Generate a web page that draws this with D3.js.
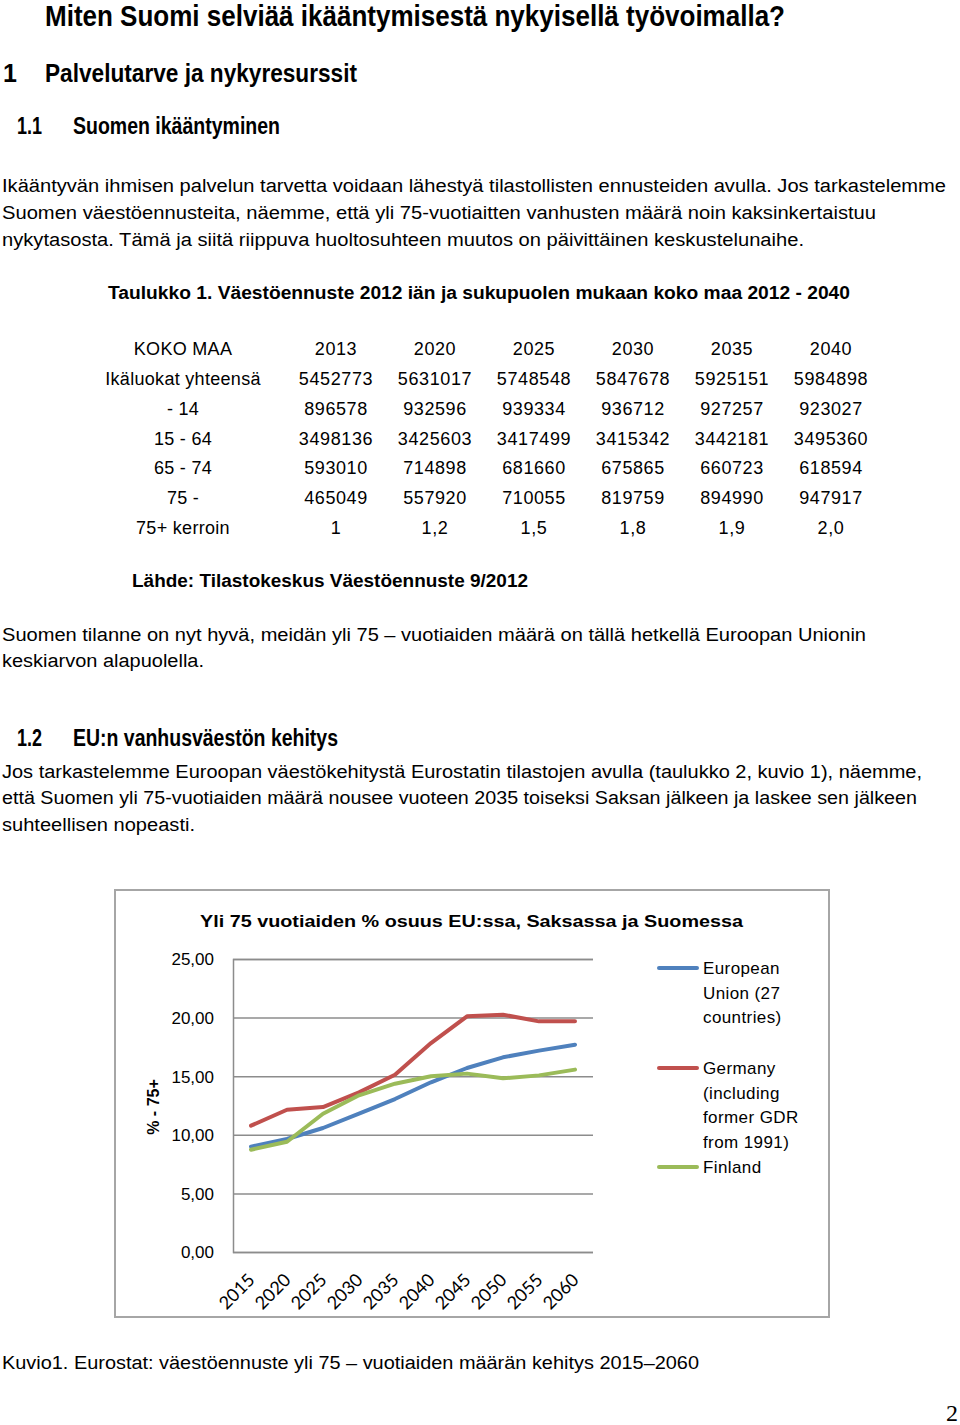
<!DOCTYPE html>
<html>
<head>
<meta charset="utf-8">
<script src="https://cdn.jsdelivr.net/npm/d3@7"></script>
<style>
  body { margin: 0; background: #fff; }
  svg { display: block; }
  text { fill: #000; }
  .body { font-family: "Liberation Sans", Arial, sans-serif; font-size: 18px; }
  .head { font-family: "Liberation Sans Narrow", "Liberation Sans", Arial, sans-serif; font-weight: bold; }
  .chart text { font-family: "Liberation Sans", Arial, sans-serif; }
</style>
</head>
<body>
<div id="page"></div>
<script>
// --- table data (Tilastokeskus) ---
var tableHeader = "KOKO MAA";
var tableYears = ["2013", "2020", "2025", "2030", "2035", "2040"];
var tableRowLabels = ["Ikäluokat yhteensä", "- 14", "15 - 64", "65 - 74", "75 -", "75+ kerroin"];
var tableValues = [
    ["5452773", "5631017", "5748548", "5847678", "5925151", "5984898"],
    ["896578", "932596", "939334", "936712", "927257", "923027"],
    ["3498136", "3425603", "3417499", "3415342", "3442181", "3495360"],
    ["593010", "714898", "681660", "675865", "660723", "618594"],
    ["465049", "557920", "710055", "819759", "894990", "947917"],
    ["1", "1,2", "1,5", "1,8", "1,9", "2,0"]
];

// --- chart data (Eurostat, % aged 75+) ---
var chartYears = ["2015", "2020", "2025", "2030", "2035", "2040", "2045", "2050", "2055", "2060"];
var euValues      = [8.99, 9.64, 10.58, 11.80, 13.05, 14.48, 15.70, 16.61, 17.18, 17.69];
var germanyValues = [10.78, 12.14, 12.37, 13.62, 15.13, 17.83, 20.11, 20.25, 19.68, 19.68];
var finlandValues = [8.73, 9.41, 11.80, 13.37, 14.36, 14.99, 15.22, 14.82, 15.07, 15.56];
var yTicks = [0, 5, 10, 15, 20, 25];
var seriesNames = [
    ["European", "Union (27", "countries)"],
    ["Germany", "(including", "former GDR", "from 1991)"],
    ["Finland"]
];
var seriesColors = ["#4f81bd", "#c0504d", "#9bbb59"];

var W = 960, H = 1425;
var svg = d3.select("#page").append("svg")
    .attr("width", W)
    .attr("height", H);

// helper for one line of text, squeezed to the width seen in the page
function textLine(x, y, str, cls, size, width) {
    var t = svg.append("text")
        .attr("class", cls)
        .attr("x", x)
        .attr("y", y)
        .style("font-size", size + "px")
        .text(str);
    if( width ) t.attr("textLength", width).attr("lengthAdjust", "spacingAndGlyphs");
    return t;
}

// headings and body text
textLine(45, 26, "Miten Suomi selviää ikääntymisestä nykyisellä työvoimalla?", "head", 30, 740);
textLine(3, 82, "1", "head", 25);
textLine(45, 82, "Palvelutarve ja nykyresurssit", "head", 25, 312);
textLine(17, 134, "1.1", "head", 23, 25);
textLine(73, 134, "Suomen ikääntyminen", "head", 23, 207);

textLine(2, 192, "Ikääntyvän ihmisen palvelun tarvetta voidaan lähestyä tilastollisten ennusteiden avulla. Jos tarkastelemme", "body", 18, 944);
textLine(2, 219, "Suomen väestöennusteita, näemme, että yli 75-vuotiaitten vanhusten määrä noin kaksinkertaistuu", "body", 18, 874);
textLine(2, 246, "nykytasosta. Tämä ja siitä riippuva huoltosuhteen muutos on päivittäinen keskustelunaihe.", "body", 18, 802);

textLine(108, 299, "Taulukko 1. Väestöennuste 2012 iän ja sukupuolen mukaan koko maa 2012 - 2040", "head", 18, 742);

// table
var colX = d3.scaleLinear().domain([0, 5]).range([336, 831]);
var rowY = d3.scaleLinear().domain([0, 6]).range([355, 534]);

svg.append("text").attr("class", "body")
    .attr("x", 183).attr("y", rowY(0)).attr("text-anchor", "middle")
    .style("letter-spacing", "0.3px")
    .text(tableHeader);
svg.selectAll(".yearHead").data(tableYears).enter().append("text")
    .attr("class", "body yearHead")
    .attr("x", function(d, i) { return colX(i); })
    .attr("y", rowY(0))
    .attr("text-anchor", "middle")
    .style("letter-spacing", "0.6px")
    .text(function(d) { return d; });
svg.selectAll(".rowLabel").data(tableRowLabels).enter().append("text")
    .attr("class", "body rowLabel")
    .attr("x", 183)
    .attr("y", function(d, i) { return rowY(i + 1); })
    .attr("text-anchor", "middle")
    .style("letter-spacing", "0.3px")
    .text(function(d) { return d; });
tableValues.forEach(function(row, r) {
    svg.selectAll(".cell" + r).data(row).enter().append("text")
        .attr("class", "body cell" + r)
        .attr("x", function(d, i) { return colX(i); })
        .attr("y", rowY(r + 1))
        .attr("text-anchor", "middle")
        .style("letter-spacing", "0.6px")
        .text(function(d) { return d; });
});

textLine(132, 587, "Lähde: Tilastokeskus Väestöennuste 9/2012", "head", 18, 396);
textLine(2, 641, "Suomen tilanne on nyt hyvä, meidän yli 75 – vuotiaiden määrä on tällä hetkellä Euroopan Unionin", "body", 18, 864);
textLine(2, 667, "keskiarvon alapuolella.", "body", 18, 202);

textLine(17, 746, "1.2", "head", 23, 25);
textLine(73, 746, "EU:n vanhusväestön kehitys", "head", 23, 265);
textLine(2, 778, "Jos tarkastelemme Euroopan väestökehitystä Eurostatin tilastojen avulla (taulukko 2, kuvio 1), näemme,", "body", 18, 920);
textLine(2, 804, "että Suomen yli 75-vuotiaiden määrä nousee vuoteen 2035 toiseksi Saksan jälkeen ja laskee sen jälkeen", "body", 18, 915);
textLine(2, 831, "suhteellisen nopeasti.", "body", 18, 193);

// --- chart ---
var chart = svg.append("g").attr("class", "chart");

chart.append("rect")
    .attr("x", 115).attr("y", 890)
    .attr("width", 714).attr("height", 427)
    .attr("fill", "#fff")
    .attr("stroke", "#a6a6a6")
    .attr("stroke-width", 2);

chart.append("text")
    .attr("x", 200).attr("y", 927)
    .attr("textLength", 543).attr("lengthAdjust", "spacingAndGlyphs")
    .style("font-size", "17px").style("font-weight", "bold")
    .text("Yli 75 vuotiaiden % osuus EU:ssa, Saksassa ja Suomessa");

var x = d3.scalePoint().domain(chartYears).range([233, 593]).padding(0.5);
var y = d3.scaleLinear().domain([0, 25]).range([1252, 959]);

// gridlines + value labels
var yAxis = d3.axisLeft(y)
    .tickValues(yTicks)
    .tickSize(-360)
    .tickPadding(19)
    .tickFormat(function(d) { return d3.format(".2f")(d).replace(".", ","); });
var gy = chart.append("g").attr("transform", "translate(233,0)").call(yAxis);
gy.select(".domain").attr("stroke", "#8c8c8c").attr("stroke-width", 1.5);
gy.selectAll(".tick line").attr("stroke", "#8c8c8c").attr("stroke-width", 1.5);
gy.selectAll(".tick text")
    .attr("dy", "0.35em")
    .style("font-size", "17px")
    .style("font-family", "'Liberation Sans', Arial, sans-serif")
    .attr("fill", "#000");

chart.append("text")
    .attr("transform", "translate(159,1107) rotate(-90)")
    .attr("text-anchor", "middle")
    .style("font-size", "16px").style("font-weight", "bold")
    .text("% - 75+");

// rotated year labels
chart.selectAll(".yearLabel").data(chartYears).enter().append("text")
    .attr("class", "yearLabel")
    .attr("transform", function(d) { return "translate(" + (x(d) + 5) + ",1281) rotate(-45)"; })
    .attr("text-anchor", "end")
    .style("font-family", "Lato, 'Open Sans', sans-serif")
    .style("font-size", "18px")
    .text(function(d) { return d; });

// lines
var allSeries = [euValues, germanyValues, finlandValues];
var line = d3.line()
    .x(function(d, i) { return x(chartYears[i]); })
    .y(function(d) { return y(d); });

chart.selectAll(".series").data(allSeries).enter().append("path")
    .attr("class", "series")
    .attr("d", line)
    .attr("fill", "none")
    .attr("stroke", function(d, i) { return seriesColors[i]; })
    .attr("stroke-width", 4)
    .attr("stroke-linejoin", "round")
    .attr("stroke-linecap", "round");

// legend
var legendY = [968, 1068, 1167];
var legend = chart.selectAll(".legend").data(seriesNames).enter().append("g")
    .attr("class", "legend")
    .attr("transform", function(d, i) { return "translate(0," + legendY[i] + ")"; });
legend.append("line")
    .attr("x1", 659).attr("x2", 697)
    .attr("stroke", function(d, i) { return seriesColors[i]; })
    .attr("stroke-width", 4)
    .attr("stroke-linecap", "round");
legend.selectAll("text").data(function(d) { return d; }).enter().append("text")
    .attr("x", 703)
    .attr("y", function(d, i) { return 6 + i * 24.5; })
    .style("font-size", "17px")
    .style("letter-spacing", "0.4px")
    .text(function(d) { return d; });

// figure caption + page number
textLine(2, 1369, "Kuvio1. Eurostat: väestöennuste yli 75 – vuotiaiden määrän kehitys 2015–2060", "body", 18, 697);
svg.append("text")
    .attr("x", 958).attr("y", 1421)
    .attr("text-anchor", "end")
    .style("font-family", "'Liberation Serif', serif")
    .style("font-size", "24px")
    .text("2");
</script>
</body>
</html>
